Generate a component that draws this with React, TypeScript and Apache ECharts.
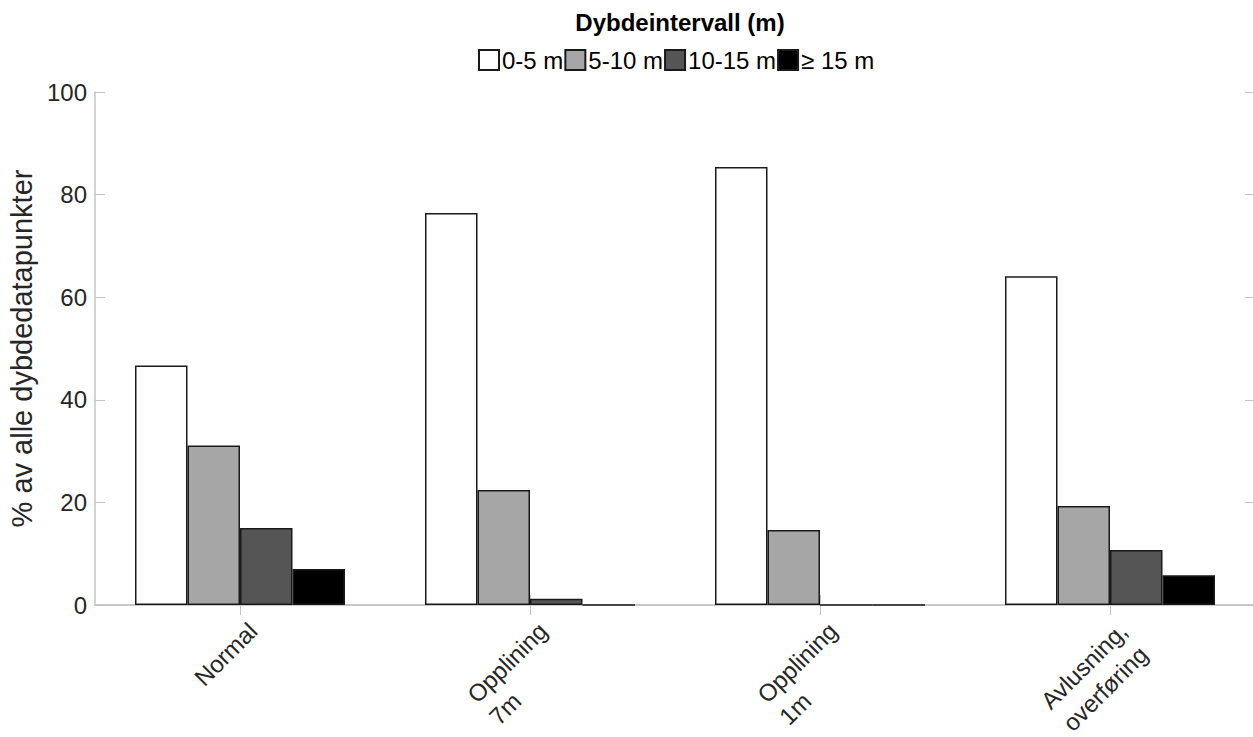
import React, { useEffect, useRef } from "react";
import * as echarts from "echarts";

const categories = ["Normal", "Opplining\n7m", "Opplining\n1m", "Avlusning,\noverføring"];
const seriesNames = ["0-5 m", "5-10 m", "10-15 m", "≥ 15 m"];
const depth0to5 = [46.7, 76.4, 85.4, 64.1];
const depth5to10 = [31.1, 22.4, 14.6, 19.3];
const depth10to15 = [15.0, 1.2, 0, 10.7];
const depth15plus = [7.0, 0, 0, 5.8];
const yTicks = [0, 20, 40, 60, 80, 100];

const seriesValues = [depth0to5, depth5to10, depth10to15, depth15plus];
const fills = ["#ffffff", "#a6a6a6", "#555555", "#000000"];

const FONT = "Liberation Sans, Arial, Helvetica, sans-serif";

export default function App() {
  const ref = useRef<HTMLDivElement>(null);
  useEffect(() => {
    document.body.style.margin = "0";
    if (!ref.current) return;
    const chart = echarts.init(ref.current, null, { renderer: "svg" });
    const axisGray = "#c4c4c4";
    const labelColor = "#262626";
    chart.setOption({
      animation: false,
      backgroundColor: "#ffffff",
      title: {
        text: "Dybdeintervall (m)",
        left: 675,
        top: 5,
        textAlign: "center",
        textStyle: { fontFamily: FONT, fontSize: 24, fontWeight: "bold", color: "#000" },
      },
      legend: {
        left: 473,
        top: 43,
        itemWidth: 20,
        itemHeight: 20,
        itemGap: 1,
        icon: "rect",
        data: seriesNames,
        textStyle: { fontFamily: FONT, fontSize: 24, color: "#000", padding: [0, 0, 0, -2] },
      },
      grid: { left: 95, right: -2, top: 92, bottom: 132, containLabel: false, outerBoundsMode: "none" },
      xAxis: [
        {
          type: "category",
          data: categories,
          position: "bottom",
          axisLine: { show: true, lineStyle: { color: axisGray, width: 1.5 } },
          axisTick: { show: true, inside: true, alignWithLabel: true, length: 10, lineStyle: { color: axisGray } },
          axisLabel: {
            rotate: 45,
            margin: 13,
            interval: 0,
            align: "right",
            verticalAlign: "top",
            padding: [0, -3, 0, 0],
            color: labelColor,
            fontFamily: FONT,
            fontSize: 24,
            lineHeight: 31,
            formatter: (v: string) => v.split("\n").map((s) => `{c|${s}}`).join("\n"),
            rich: { c: { align: "left", fontFamily: FONT, fontSize: 24, color: labelColor, lineHeight: 31 } },
          },
        },
        {
          type: "category",
          data: categories,
          position: "top",
          axisLine: { show: true, lineStyle: { color: axisGray, width: 1.5 } },
          axisTick: { show: true, inside: true, alignWithLabel: true, length: 10, lineStyle: { color: axisGray } },
          axisLabel: { show: false },
        },
      ],
      yAxis: [
        {
          type: "value",
          min: 0,
          max: 100,
          interval: 20,
          position: "left",
          name: "% av alle dybdedatapunkter",
          nameLocation: "middle",
          nameGap: 53,
          nameTextStyle: { fontFamily: FONT, fontSize: 29, color: labelColor },
          axisLine: { show: true, lineStyle: { color: axisGray, width: 1.5 } },
          axisTick: { show: true, inside: true, length: 10, lineStyle: { color: axisGray } },
          splitLine: { show: false },
          axisLabel: {
            margin: 8,
            color: labelColor,
            fontFamily: FONT,
            fontSize: 24,
            formatter: (v: number) => (yTicks.includes(v) ? String(v) : ""),
          },
        },
        {
          type: "value",
          min: 0,
          max: 100,
          interval: 20,
          position: "right",
          axisLine: { show: true, lineStyle: { color: axisGray, width: 1.5 } },
          axisTick: { show: true, inside: true, length: 10, lineStyle: { color: axisGray } },
          splitLine: { show: false },
          axisLabel: { show: false },
        },
      ],
      series: seriesNames.map((name, i) => ({
        name,
        type: "bar",
        xAxisIndex: 0,
        yAxisIndex: 0,
        data: seriesValues[i],
        barWidth: 52.5,
        barGap: "0%",
        itemStyle: { color: fills[i], borderColor: "#1a1a1a", borderWidth: 1.5 },
      })),
    });
    return () => chart.dispose();
  }, []);
  return <div ref={ref} style={{ width: 1253, height: 737, overflow: "hidden" }} />;
}
